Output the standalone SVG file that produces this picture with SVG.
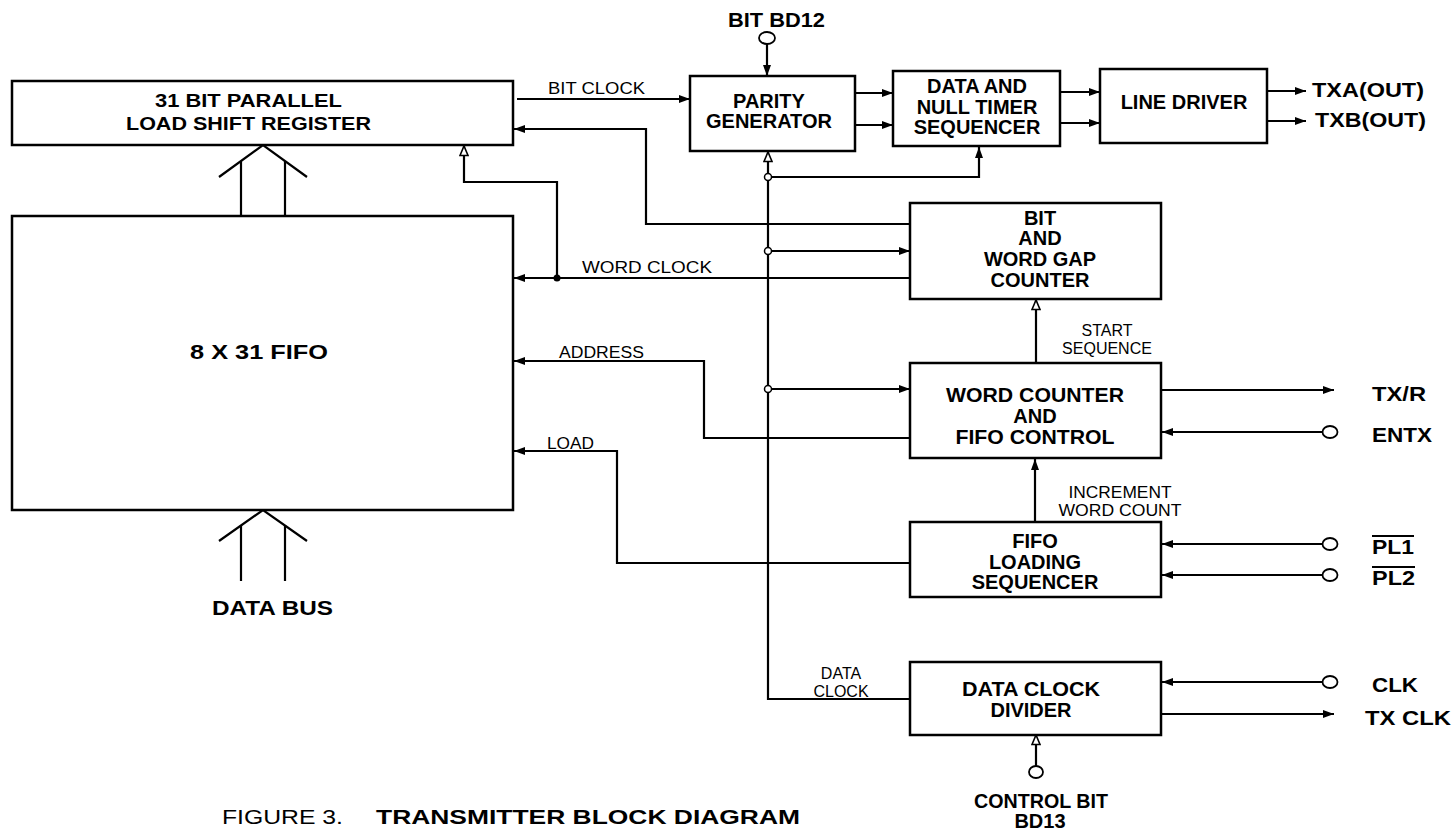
<svg xmlns="http://www.w3.org/2000/svg" width="1455" height="833" viewBox="0 0 1455 833">
<style>
.box{fill:#fff;stroke:#000;stroke-width:2.5}
.ln{fill:none;stroke:#000;stroke-width:2.2}
.pin{fill:#fff;stroke:#000;stroke-width:1.8}
.jo{fill:#fff;stroke:#000;stroke-width:1.5}
.jf{fill:#000}
.b{font-family:"Liberation Sans",Arial,sans-serif;font-weight:bold;font-size:20px;fill:#000}
.bs{font-family:"Liberation Sans",Arial,sans-serif;font-weight:bold;font-size:18px;fill:#000}
.r{font-family:"Liberation Sans",Arial,sans-serif;font-size:16px;fill:#000}
.m{text-anchor:middle}
</style>
<defs>
<marker id="af" markerUnits="userSpaceOnUse" markerWidth="11" markerHeight="8" refX="11" refY="4" orient="auto">
<path d="M0,0 L11,4 L0,8 z" fill="#000"/>
</marker>
<marker id="ao" markerUnits="userSpaceOnUse" markerWidth="12" markerHeight="10" refX="10.5" refY="5" orient="auto">
<path d="M1,1 L10.5,5 L1,9 z" fill="#fff" stroke="#000" stroke-width="1.6"/>
</marker>
</defs>
<rect width="1455" height="833" fill="#fff"/>

<g id="connectors">
<line class="ln" x1="517" y1="99" x2="690" y2="99" marker-end="url(#af)"/>
<polyline class="ln" points="910,224 646,224 646,129 514,129" marker-end="url(#af)"/>
<line class="ln" x1="855" y1="93" x2="893" y2="93" marker-end="url(#af)"/>
<line class="ln" x1="855" y1="125" x2="893" y2="125" marker-end="url(#af)"/>
<line class="ln" x1="1060" y1="92" x2="1100" y2="92" marker-end="url(#af)"/>
<line class="ln" x1="1060" y1="123" x2="1100" y2="123" marker-end="url(#af)"/>
<line class="ln" x1="1267" y1="91" x2="1306" y2="91" marker-end="url(#af)"/>
<line class="ln" x1="1267" y1="121" x2="1306" y2="121" marker-end="url(#af)"/>
<line class="ln" x1="767" y1="44" x2="767" y2="76" marker-end="url(#af)"/>
<polyline class="ln" points="910,699 768,699 768,152" marker-end="url(#ao)"/>
<polyline class="ln" points="768,177 979,177 979,147" marker-end="url(#af)"/>
<line class="ln" x1="768" y1="251" x2="910" y2="251" marker-end="url(#af)"/>
<line class="ln" x1="768" y1="389" x2="910" y2="389" marker-end="url(#af)"/>
<line class="ln" x1="910" y1="278" x2="514" y2="278" marker-end="url(#af)"/>
<polyline class="ln" points="557,278 557,182 464,182 464,146" marker-end="url(#ao)"/>
<polyline class="ln" points="910,438 704,438 704,361 514,361" marker-end="url(#af)"/>
<polyline class="ln" points="910,563 617,563 617,451 514,451" marker-end="url(#af)"/>
<line class="ln" x1="1036" y1="363" x2="1036" y2="300" marker-end="url(#ao)"/>
<line class="ln" x1="1035" y1="522" x2="1035" y2="459" marker-end="url(#af)"/>
<line class="ln" x1="1161" y1="390" x2="1334" y2="390" marker-end="url(#af)"/>
<line class="ln" x1="1322" y1="432" x2="1162" y2="432" marker-end="url(#af)"/>
<line class="ln" x1="1322" y1="544" x2="1162" y2="544" marker-end="url(#af)"/>
<line class="ln" x1="1322" y1="575" x2="1162" y2="575" marker-end="url(#af)"/>
<line class="ln" x1="1322" y1="682" x2="1162" y2="682" marker-end="url(#af)"/>
<line class="ln" x1="1161" y1="714" x2="1334" y2="714" marker-end="url(#af)"/>
<line class="ln" x1="1036" y1="766" x2="1036" y2="735" marker-end="url(#ao)"/>
<circle class="jo" cx="768" cy="177" r="3.5"/>
<circle class="jo" cx="768" cy="251" r="3.5"/>
<circle class="jo" cx="768" cy="389" r="3.5"/>
<circle class="jf" cx="557" cy="278" r="3.5"/>
<g id="bus-top">
<polyline class="ln" points="219,177 263,145 307,177"/>
<line class="ln" x1="241" y1="161" x2="241" y2="216"/>
<line class="ln" x1="285" y1="161" x2="285" y2="216"/>
</g>
<g id="bus-bottom">
<polyline class="ln" points="219,541 263,510 307,541"/>
<line class="ln" x1="241" y1="525" x2="241" y2="581"/>
<line class="ln" x1="285" y1="525" x2="285" y2="581"/>
</g>
<text class="r" x="548" y="94" textLength="97" lengthAdjust="spacingAndGlyphs">BIT CLOCK</text>
<text class="r" x="582" y="273" textLength="130" lengthAdjust="spacingAndGlyphs">WORD CLOCK</text>
<text class="r" x="559" y="358" textLength="85" lengthAdjust="spacingAndGlyphs">ADDRESS</text>
<text class="r" x="547" y="449" textLength="47" lengthAdjust="spacingAndGlyphs">LOAD</text>
<text class="r m" x="1107" y="336">START</text>
<text class="r m" x="1107" y="354">SEQUENCE</text>
<text class="r m" x="1120" y="498" textLength="103" lengthAdjust="spacingAndGlyphs">INCREMENT</text>
<text class="r m" x="1120" y="516" textLength="123" lengthAdjust="spacingAndGlyphs">WORD COUNT</text>
<text class="r m" x="841" y="679">DATA</text>
<text class="r m" x="841" y="697">CLOCK</text>
</g>

<g id="shift-register">
<rect class="box" x="12" y="81" width="501" height="64"/>
<text class="bs" x="155" y="107" textLength="187" lengthAdjust="spacingAndGlyphs">31 BIT PARALLEL</text>
<text class="bs" x="126" y="130" textLength="245" lengthAdjust="spacingAndGlyphs">LOAD SHIFT REGISTER</text>
</g>
<g id="fifo">
<rect class="box" x="12" y="216" width="501" height="294"/>
<text class="b" x="190" y="359" textLength="138" lengthAdjust="spacingAndGlyphs">8 X 31 FIFO</text>
</g>
<g id="parity-generator">
<rect class="box" x="690" y="76" width="165" height="75"/>
<text class="b m" x="769" y="108">PARITY</text>
<text class="b m" x="769" y="128">GENERATOR</text>
</g>
<g id="data-null-timer">
<rect class="box" x="893" y="71" width="167" height="75"/>
<text class="b m" x="977" y="93">DATA AND</text>
<text class="b m" x="977" y="114">NULL TIMER</text>
<text class="b m" x="977" y="134">SEQUENCER</text>
</g>
<g id="line-driver">
<rect class="box" x="1100" y="69" width="167" height="74"/>
<text class="b m" x="1184" y="109">LINE DRIVER</text>
</g>
<g id="bit-word-gap-counter">
<rect class="box" x="910" y="203" width="251" height="96"/>
<text class="b m" x="1040" y="225">BIT</text>
<text class="b m" x="1040" y="245">AND</text>
<text class="b m" x="1040" y="266">WORD GAP</text>
<text class="b m" x="1040" y="287">COUNTER</text>
</g>
<g id="word-counter">
<rect class="box" x="910" y="363" width="251" height="95"/>
<text class="b m" x="1035" y="402" textLength="178" lengthAdjust="spacingAndGlyphs">WORD COUNTER</text>
<text class="b m" x="1035" y="423">AND</text>
<text class="b m" x="1035" y="444" textLength="159" lengthAdjust="spacingAndGlyphs">FIFO CONTROL</text>
</g>
<g id="fifo-loading-sequencer">
<rect class="box" x="910" y="522" width="251" height="75"/>
<text class="b m" x="1035" y="548">FIFO</text>
<text class="b m" x="1035" y="569">LOADING</text>
<text class="b m" x="1035" y="589">SEQUENCER</text>
</g>
<g id="data-clock-divider">
<rect class="box" x="910" y="662" width="251" height="73"/>
<text class="b m" x="1031" y="696" textLength="138" lengthAdjust="spacingAndGlyphs">DATA CLOCK</text>
<text class="b m" x="1031" y="717">DIVIDER</text>
</g>

<g id="pin-bit-bd12">
<ellipse class="pin" cx="767" cy="38" rx="8" ry="6"/>
<text class="b" x="728" y="27" textLength="97" lengthAdjust="spacingAndGlyphs">BIT BD12</text>
</g>
<g id="pin-txa">
<text class="b" x="1312" y="97" textLength="112" lengthAdjust="spacingAndGlyphs">TXA(OUT)</text>
</g>
<g id="pin-txb">
<text class="b" x="1315" y="127" textLength="111" lengthAdjust="spacingAndGlyphs">TXB(OUT)</text>
</g>
<g id="pin-txr">
<text class="b" x="1372" y="401" textLength="54" lengthAdjust="spacingAndGlyphs">TX/R</text>
</g>
<g id="pin-entx">
<ellipse class="pin" cx="1330" cy="432" rx="7.5" ry="6"/>
<text class="b" x="1372" y="442" textLength="60" lengthAdjust="spacingAndGlyphs">ENTX</text>
</g>
<g id="pin-pl1">
<ellipse class="pin" cx="1330" cy="544" rx="7.5" ry="6"/>
<text class="b" x="1372" y="554" textLength="42" lengthAdjust="spacingAndGlyphs">PL1</text>
<line x1="1372" y1="536" x2="1414" y2="536" stroke="#000" stroke-width="2"/>
</g>
<g id="pin-pl2">
<ellipse class="pin" cx="1330" cy="575" rx="7.5" ry="6"/>
<text class="b" x="1372" y="585" textLength="43" lengthAdjust="spacingAndGlyphs">PL2</text>
<line x1="1372" y1="567" x2="1415" y2="567" stroke="#000" stroke-width="2"/>
</g>
<g id="pin-clk">
<ellipse class="pin" cx="1330" cy="682" rx="7.5" ry="6"/>
<text class="b" x="1372" y="692" textLength="46" lengthAdjust="spacingAndGlyphs">CLK</text>
</g>
<g id="pin-txclk">
<text class="b" x="1365" y="725" textLength="86" lengthAdjust="spacingAndGlyphs">TX CLK</text>
</g>
<g id="pin-control-bit">
<ellipse class="pin" cx="1036" cy="772" rx="7" ry="6"/>
<text class="b m" x="1041" y="808" textLength="134" lengthAdjust="spacingAndGlyphs">CONTROL BIT</text>
<text class="b m" x="1040" y="828">BD13</text>
</g>
<g id="data-bus-label">
<text class="b" x="212" y="615" textLength="121" lengthAdjust="spacingAndGlyphs">DATA BUS</text>
</g>
<g id="caption">
<text font-family="Liberation Sans,Arial,sans-serif" font-size="21" x="222" y="824" textLength="121" lengthAdjust="spacingAndGlyphs">FIGURE 3.</text>
<text class="b" font-size="21" x="376" y="824" textLength="424" lengthAdjust="spacingAndGlyphs">TRANSMITTER BLOCK DIAGRAM</text>
</g>
</svg>
